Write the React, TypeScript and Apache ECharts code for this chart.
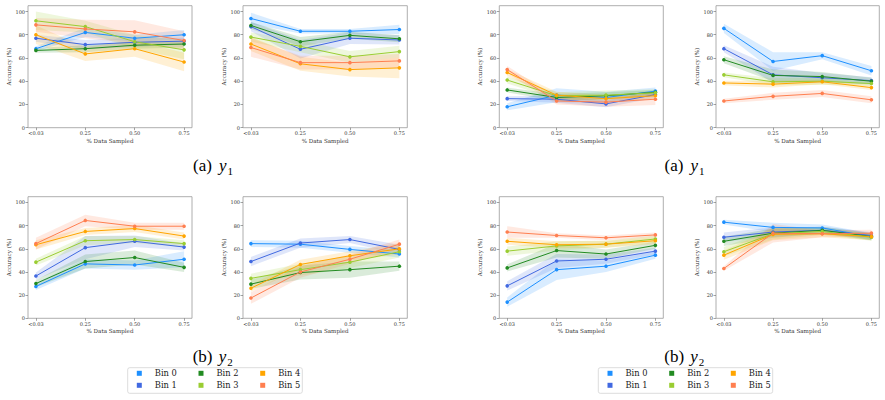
import React, { useEffect, useRef } from "react";
import * as echarts from "echarts";

const xLabels = ["<0.03", "0.25", "0.50", "0.75"];
const binNames = ["Bin 0", "Bin 1", "Bin 2", "Bin 3", "Bin 4", "Bin 5"];
const binColors = ["#1e90ff", "#4169e1", "#228b22", "#9acd32", "#ffa500", "#ff7f50"];
const yTicks = [0, 20, 40, 60, 80, 100];

// Left figure, (a) y1
const leftY1PanelAMean = [
  [68, 82, 77, 80],
  [77, 71.5, 73.5, 74.5],
  [66.5, 68, 71, 72],
  [92, 87, 74, 67],
  [80, 63.5, 68, 56.5],
  [88.5, 85, 82.5, 75],
];
const leftY1PanelAErr = [
  [2, 4, 3, 4],
  [3, 4, 4, 3],
  [2, 3, 3, 3],
  [8, 5, 6, 8],
  [8, 6, 7, 8],
  [6, 8, 10, 8],
];
const leftY1PanelBMean = [
  [94, 83, 83, 84.5],
  [87, 67.5, 77, 75.5],
  [88, 74, 79.5, 76.5],
  [78, 70, 61, 65.5],
  [72, 55, 50, 51.5],
  [69, 56, 56, 57.5],
];
const leftY1PanelBErr = [
  [5, 2, 2, 4],
  [4, 8, 5, 4],
  [3, 4, 3, 3],
  [4, 5, 5, 5],
  [6, 6, 6, 9],
  [8, 6, 6, 6],
];
// Right figure, (a) y1
const rightY1PanelAMean = [
  [18, 28, 26, 31.5],
  [25, 24.5, 20.5, 28.5],
  [32.5, 26, 27.5, 30.5],
  [41, 27.5, 28, 30],
  [47.5, 28, 25, 27.5],
  [50, 23, 22, 24.5],
];
const rightY1PanelAErr = [
  [3, 6, 5, 3],
  [2, 3, 3, 3],
  [2, 3, 3, 2],
  [3, 3, 4, 3],
  [3, 3, 3, 3],
  [3, 3, 4, 5],
];
const rightY1PanelBMean = [
  [85.5, 57, 62, 49],
  [68, 45.5, 43, 40.5],
  [58.5, 45, 44, 40],
  [45.5, 39.5, 40, 38],
  [38.5, 37.5, 39.5, 34.5],
  [23, 27, 29.5, 24],
];
const rightY1PanelBErr = [
  [4, 8, 3, 4],
  [3, 7, 4, 3],
  [3, 5, 4, 3],
  [2, 3, 3, 2],
  [2, 3, 2, 2],
  [2, 3, 3, 3],
];
// Left figure, (b) y2
const leftY2PanelAMean = [
  [27.5, 47, 46, 51],
  [36.5, 61, 66.5, 61.5],
  [30, 49, 52.5, 44],
  [48.5, 67, 68, 64.5],
  [63.5, 75, 77.5, 71],
  [64.5, 84.5, 79.5, 79.5],
];
const leftY2PanelAErr = [
  [3, 4, 4, 7],
  [3, 10, 5, 3],
  [3, 6, 6, 4],
  [3, 4, 3, 3],
  [4, 3, 3, 3],
  [5, 5, 3, 3],
];
const leftY2PanelBMean = [
  [64.5, 64, 59.5, 55.5],
  [49, 65, 68, 59.5],
  [29.5, 39.5, 42, 45],
  [34.5, 42, 48.5, 57.5],
  [26, 46.5, 54, 60],
  [17.5, 40, 51, 64],
];
const leftY2PanelBErr = [
  [3, 3, 3, 3],
  [4, 4, 3, 4],
  [4, 6, 7, 4],
  [4, 5, 5, 5],
  [3, 4, 4, 5],
  [5, 5, 4, 4],
];
// Right figure, (b) y2
const rightY2PanelAMean = [
  [14, 42, 45, 54.5],
  [28, 49.5, 51, 58],
  [43.5, 58.5, 55.5, 63],
  [58, 62.5, 64, 68.5],
  [66.5, 63.5, 64, 67],
  [74.5, 71.5, 69.5, 72],
];
const rightY2PanelAErr = [
  [4, 9, 5, 3],
  [4, 6, 4, 3],
  [3, 6, 4, 3],
  [4, 4, 3, 3],
  [3, 3, 3, 3],
  [5, 2, 2, 2],
];
const rightY2PanelBMean = [
  [83, 78.5, 78, 70.5],
  [70, 74.5, 76, 71.5],
  [66.5, 73.5, 76, 70.5],
  [57.5, 73, 75, 70],
  [54.5, 72.5, 73, 70.5],
  [43, 73.5, 73, 73.5],
];
const rightY2PanelBErr = [
  [2, 4, 3, 3],
  [4, 4, 3, 3],
  [4, 4, 3, 3],
  [4, 5, 3, 3],
  [4, 5, 3, 3],
  [2, 8, 3, 3],
];

const panels = [
  { mean: leftY1PanelAMean, err: leftY1PanelAErr },
  { mean: leftY1PanelBMean, err: leftY1PanelBErr },
  { mean: rightY1PanelAMean, err: rightY1PanelAErr },
  { mean: rightY1PanelBMean, err: rightY1PanelBErr },
  { mean: leftY2PanelAMean, err: leftY2PanelAErr },
  { mean: leftY2PanelBMean, err: leftY2PanelBErr },
  { mean: rightY2PanelAMean, err: rightY2PanelAErr },
  { mean: rightY2PanelBMean, err: rightY2PanelBErr },
];

const colLayout = [
  [28, 164],
  [243, 164.3],
  [499.3, 164],
  [716, 163.3],
];
const rowLayout = [
  [5.7, 122],
  [196.7, 121.6],
];

const SERIF = "DejaVu Serif";
const CAPTION = "Liberation Serif";

function caption(x0: number, cy: number, label: string, sub: string) {
  return {
    type: "group",
    children: [
      {
        type: "text",
        x: x0,
        y: cy,
        style: { text: label, fontFamily: CAPTION, fontSize: 17, fill: "#000", align: "left", verticalAlign: "middle" },
      },
      {
        type: "text",
        x: x0 + 26,
        y: cy,
        style: {
          text: "y",
          fontFamily: CAPTION,
          fontSize: 17,
          fontStyle: "italic",
          fill: "#000",
          align: "left",
          verticalAlign: "middle",
        },
      },
      {
        type: "text",
        x: x0 + 34.5,
        y: cy + 5,
        style: { text: sub, fontFamily: CAPTION, fontSize: 11, fill: "#000", align: "left", verticalAlign: "middle" },
      },
    ],
  };
}

export default function App() {
  const ref = useRef<HTMLDivElement>(null);
  useEffect(() => {
    if (!ref.current) return;
    const chart = echarts.init(ref.current, undefined, { renderer: "svg" });

    const grids: any[] = [];
    const xAxes: any[] = [];
    const yAxes: any[] = [];
    const series: any[] = [];

    panels.forEach((p, pi) => {
      const col = pi % 4;
      const row = Math.floor(pi / 4);
      grids.push({
        left: colLayout[col][0],
        width: colLayout[col][1],
        top: rowLayout[row][0],
        height: rowLayout[row][1],
        show: true,
        borderColor: "#9a9a9a",
        borderWidth: 0.8,
        backgroundColor: "transparent",
      });
      xAxes.push({
        type: "value",
        gridIndex: pi,
        min: -0.16,
        max: 3.16,
        axisLine: { show: false, onZero: false },
        splitLine: { show: false },
        axisTick: { show: true, customValues: [0, 1, 2, 3], length: 2.5, lineStyle: { color: "#666", width: 0.6 } },
        axisLabel: {
          customValues: [0, 1, 2, 3],
          formatter: (v: number) => xLabels[Math.round(v)] ?? "",
          fontFamily: SERIF,
          fontSize: 5,
          color: "#333",
          margin: 3,
        },
        name: "% Data Sampled",
        nameLocation: "middle",
        nameGap: 10,
        nameTextStyle: { fontFamily: SERIF, fontSize: 5.6, color: "#333" },
      });
      yAxes.push({
        type: "value",
        gridIndex: pi,
        min: 0,
        max: 105,
        axisLine: { show: false, onZero: false },
        splitLine: { show: false },
        axisTick: { show: true, customValues: yTicks, length: 2.5, lineStyle: { color: "#666", width: 0.6 } },
        axisLabel: {
          customValues: yTicks,
          fontFamily: SERIF,
          fontSize: 5,
          color: "#333",
          margin: 3,
        },
        name: "Accuracy (%)",
        nameLocation: "middle",
        nameRotate: 90,
        nameGap: 16,
        nameTextStyle: { fontFamily: SERIF, fontSize: 5.6, color: "#333" },
      });

      p.mean.forEach((m, b) => {
        const lo = m.map((v, i) => v - p.err[b][i]);
        const hi = m.map((v, i) => v + p.err[b][i]);
        const color = binColors[b];
        series.push({
          type: "custom",
          name: `band${pi}_${b}`,
          xAxisIndex: pi,
          yAxisIndex: pi,
          silent: true,
          z: 1,
          clip: true,
          data: m.map((v, i) => [i, lo[i], hi[i]]),
          encode: { x: 0, y: [1, 2] },
          renderItem: (params: any, api: any) => {
            if (params.dataIndex !== 0) return null;
            const pts: number[][] = [];
            for (let i = 0; i < lo.length; i++) pts.push(api.coord([i, hi[i]]));
            for (let i = lo.length - 1; i >= 0; i--) pts.push(api.coord([i, lo[i]]));
            return {
              type: "polygon",
              shape: { points: pts },
              style: { fill: color, opacity: 0.17 },
            };
          },
        });
      });
      p.mean.forEach((m, b) => {
        series.push({
          type: "line",
          name: binNames[b],
          xAxisIndex: pi,
          yAxisIndex: pi,
          data: m.map((v, i) => [i, v]),
          symbol: "circle",
          symbolSize: 3.6,
          lineStyle: { color: binColors[b], width: 1 },
          itemStyle: { color: binColors[b] },
          z: 3,
        });
      });
    });

    const legendCols = [
      [139.3, 201, 262.7],
      [610, 671.7, 733.3],
    ];
    const legendRows = [373.3, 385.3];
    const legends: any[] = [];
    legendCols.forEach((cols) => {
      binNames.forEach((name, b) => {
        const c = Math.floor(b / 2);
        const r = b % 2;
        legends.push({
          data: [name],
          left: cols[c] - 2.5,
          top: legendRows[r] - 5,
          padding: 0,
          itemWidth: 5,
          itemHeight: 5,
          itemGap: 0,
          icon: "rect",
          selectedMode: false,
          textStyle: {
            fontFamily: SERIF,
            fontSize: 8.3,
            color: "#222",
            lineHeight: 10,
            padding: [0, 0, 0, 8],
          },
        });
      });
    });

    const graphic: any[] = [
      {
        type: "rect",
        shape: { x: 127.7, y: 367.7, width: 174.6, height: 25.6, r: 2 },
        style: { fill: "#fff", stroke: "#d3d3d3", lineWidth: 0.8 },
        z: 0,
      },
      {
        type: "rect",
        shape: { x: 598.3, y: 367.7, width: 174.4, height: 25.6, r: 2 },
        style: { fill: "#fff", stroke: "#d3d3d3", lineWidth: 0.8 },
        z: 0,
      },
      caption(193, 165.8, "(a)", "1"),
      caption(664.5, 165.8, "(a)", "1"),
      caption(192.7, 356.7, "(b)", "2"),
      caption(664.3, 356.7, "(b)", "2"),
    ];

    chart.setOption({
      animation: false,
      backgroundColor: "#fff",
      grid: grids,
      xAxis: xAxes,
      yAxis: yAxes,
      series,
      legend: legends,
      graphic,
    });
    return () => chart.dispose();
  }, []);
  return (
    <div
      ref={ref}
      style={{ position: "fixed", left: 0, top: 0, width: 885, height: 400 }}
    />
  );
}
